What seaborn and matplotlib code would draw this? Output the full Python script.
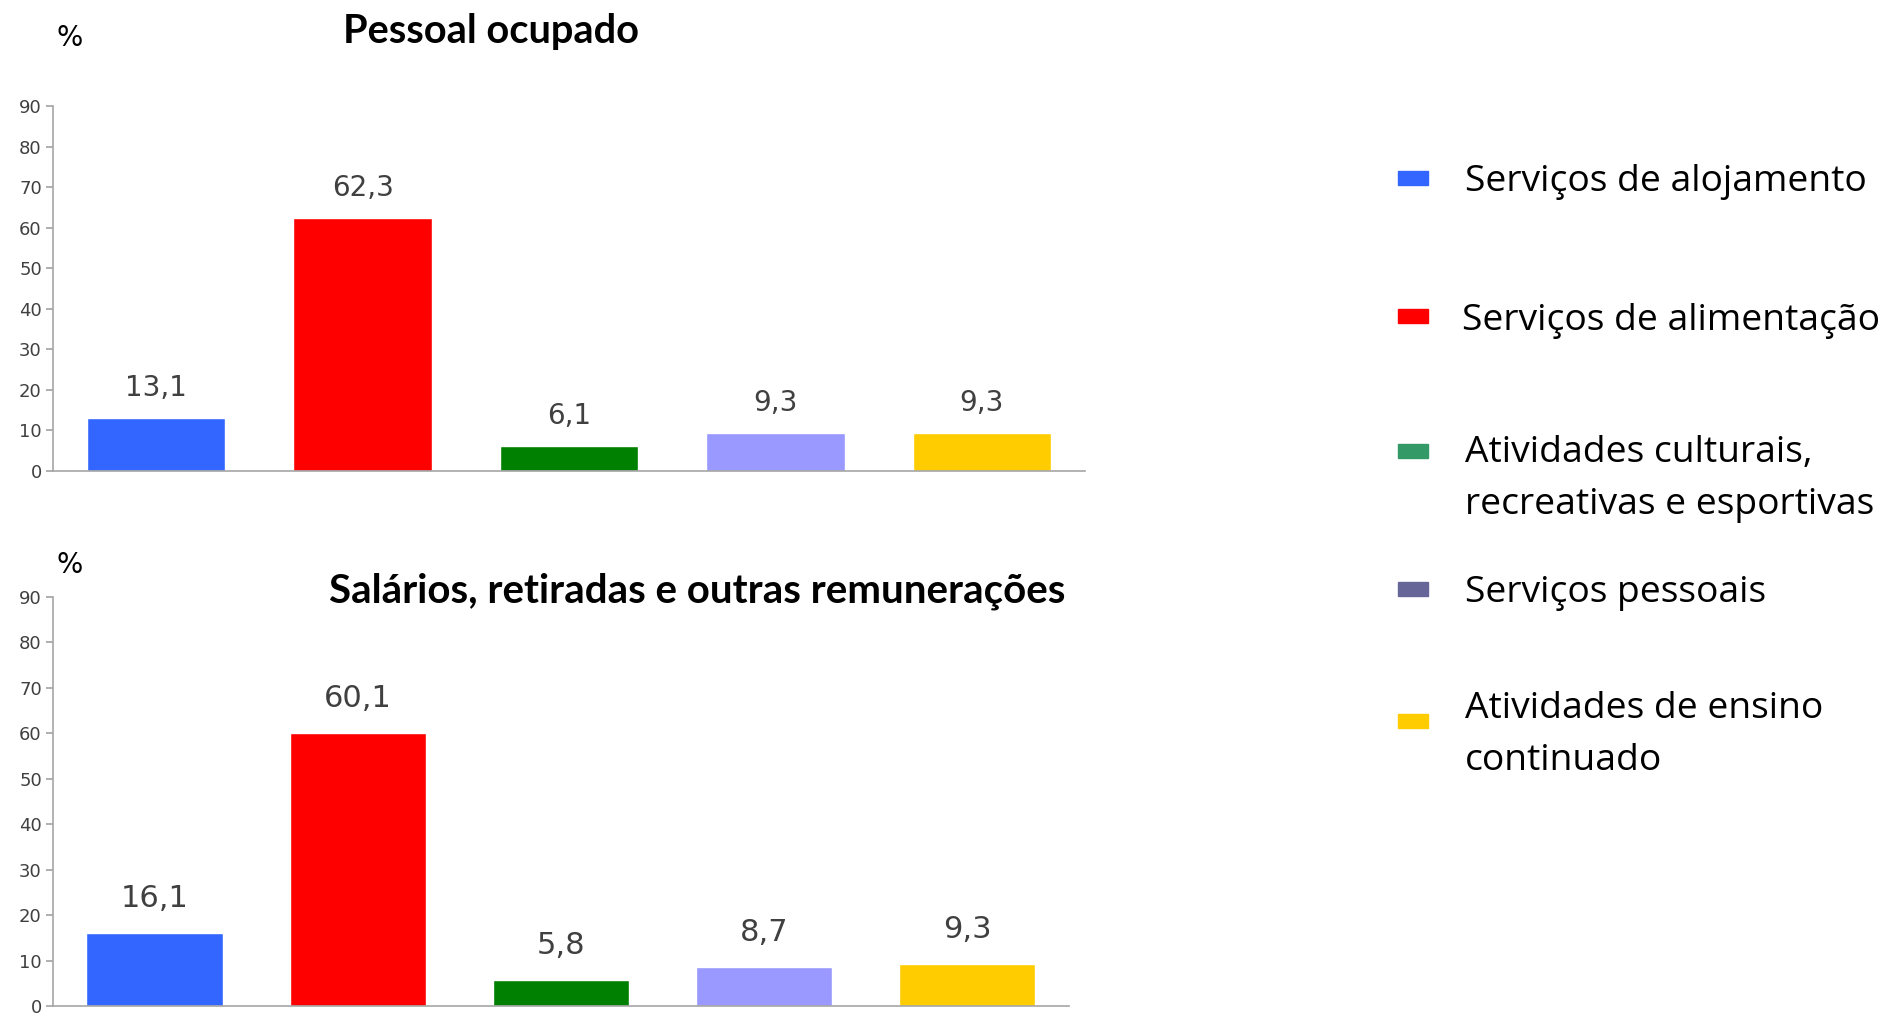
import matplotlib
matplotlib.use("Agg")
import matplotlib.pyplot as plt
from matplotlib import font_manager
from matplotlib.patches import Rectangle
import seaborn as sns
import pandas as pd

categories = ["Serviços de alojamento", "Serviços de alimentação",
              "Atividades culturais,\nrecreativas e esportivas",
              "Serviços pessoais", "Atividades de ensino\ncontinuado"]
pessoal_ocupado = [13.1, 62.3, 6.1, 9.3, 9.3]
salarios = [16.1, 60.1, 5.8, 8.7, 9.3]
value_labels_top = ["13,1", "62,3", "6,1", "9,3", "9,3"]
value_labels_bottom = ["16,1", "60,1", "5,8", "8,7", "9,3"]
yticks = [0, 10, 20, 30, 40, 50, 60, 70, 80, 90]
title_top = "Pessoal ocupado"
title_bottom = "Salários, retiradas e outras remunerações"

bar_colors = ["#3366FF", "#FF0000", "#008000", "#9999FF", "#FFCC00"]
legend_colors = ["#3366FF", "#FF0000", "#339966", "#666699", "#FFCC00"]

sns.set_theme(style="white")

def has_font(name):
    try:
        font_manager.findfont(font_manager.FontProperties(family=name), fallback_to_default=False)
        return True
    except Exception:
        return False

narrow = "Liberation Sans Narrow" if has_font("Liberation Sans Narrow") else "DejaVu Sans"
plt.rcParams["font.family"] = [narrow, "DejaVu Sans"]

fig = plt.figure(figsize=(18.85, 10.16), dpi=100)
ax1 = fig.add_axes([0.0281, 0.5364, 0.5475, 0.3593])
ax2 = fig.add_axes([0.0281, 0.0098, 0.5390, 0.4026])

def draw(ax, values, labels, title, title_xy, title_fs, lab_fs, lab_off):
    df = pd.DataFrame({"cat": categories, "val": values})
    sns.barplot(data=df, x="cat", y="val", hue="cat", palette=bar_colors,
                order=categories, hue_order=categories, width=0.67,
                legend=False, ax=ax, saturation=1)
    ax.set_xlim(-0.5, 4.5)
    ax.set_ylim(0, 90)
    ax.set_yticks(yticks)
    ax.set_yticklabels([str(t) for t in yticks], fontsize=13, color="#404040")
    ax.set_xticks([])
    ax.set_xlabel("")
    ax.set_ylabel("")
    for s in ["top", "right"]:
        ax.spines[s].set_visible(False)
    for s in ["left", "bottom"]:
        ax.spines[s].set_color("#A6A6A6")
        ax.spines[s].set_linewidth(1.2)
    ax.tick_params(axis="y", length=5, color="#A6A6A6", left=True, pad=3)
    for i, (v, t) in enumerate(zip(values, labels)):
        ax.annotate(t, (i, v), xytext=(0, lab_off), textcoords="offset points",
                    ha="center", va="center", fontsize=lab_fs, color="#404040")
    fig.text(title_xy[0], title_xy[1], title, ha="center", va="center",
             fontsize=title_fs, fontweight="bold", color="black",
             family=["Lato", "DejaVu Sans"])

draw(ax1, pessoal_ocupado, value_labels_top, title_top, (491/1885, 1 - 31/1016), 28.6, 20, 21.5)
draw(ax2, salarios, value_labels_bottom, title_bottom, (697/1885, 1 - 591/1016), 29, 22, 24.5)

fig.text(70/1885, 1 - 38/1016, "%", ha="center", va="center", fontsize=20, color="black")
fig.text(70/1885, 1 - 565/1016, "%", ha="center", va="center", fontsize=20, color="black")

# legend
leg_items_y = [178, 316, 451, 589, 721]   # patch centers (px from top)
leg_text_y = [182, 321, [453, 505], 593, [709, 761]]
leg_text_x = [1465, 1462, 1465, 1465, 1465]
for lab, col, py, ty, tx in zip(categories, legend_colors, leg_items_y, leg_text_y, leg_text_x):
    fig.patches.append(Rectangle((1398/1885, 1 - (py + 7)/1016), 30/1885, 14/1016,
                                 transform=fig.transFigure, color=col, figure=fig))
    lines = lab.split("\n")
    ys = ty if isinstance(ty, list) else [ty]
    for line, yy in zip(lines, ys):
        fig.text(tx/1885, 1 - yy/1016, line, ha="left", va="center",
                 fontsize=26.8, family=["Open Sans", "DejaVu Sans"], color="black")

fig.savefig("out.png", dpi=100, facecolor="white")
